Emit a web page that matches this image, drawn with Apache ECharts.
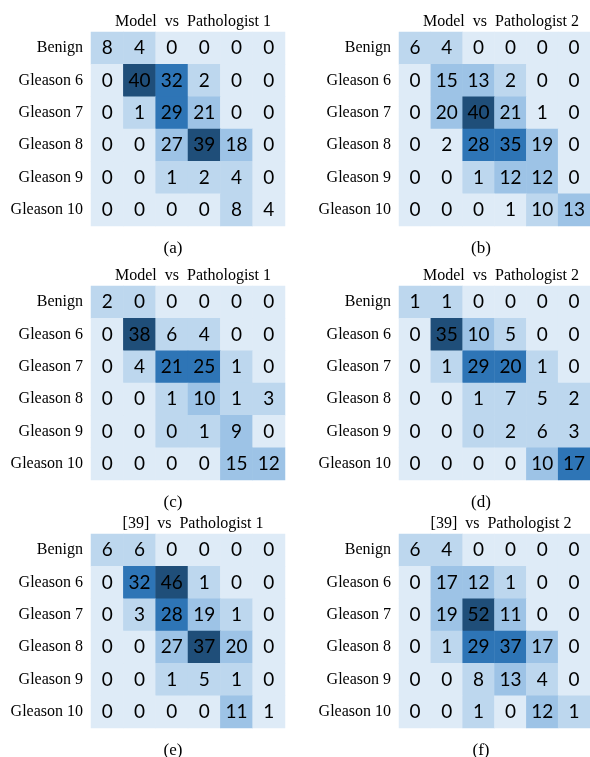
<!DOCTYPE html>
<html>
<head>
<meta charset="utf-8">
<script src="https://cdn.jsdelivr.net/npm/echarts@6/dist/echarts.min.js"></script>
<style>
  html, body { margin: 0; padding: 0; background: #fff; }
  #chart { width: 590px; height: 757px; }
</style>
</head>
<body>
<div id="chart"></div>
<script>
const rowLabels = ['Benign', 'Gleason 6', 'Gleason 7', 'Gleason 8', 'Gleason 9', 'Gleason 10']
const titles = [
  'Model  vs  Pathologist 1', 'Model  vs  Pathologist 2',
  'Model  vs  Pathologist 1', 'Model  vs  Pathologist 2',
  '[39]  vs  Pathologist 1', '[39]  vs  Pathologist 2'
]
const captions = ['(a)', '(b)', '(c)', '(d)', '(e)', '(f)']

// counts per panel, rows top to bottom
const countsA = [[8, 4, 0, 0, 0, 0], [0, 40, 32, 2, 0, 0], [0, 1, 29, 21, 0, 0], [0, 0, 27, 39, 18, 0], [0, 0, 1, 2, 4, 0], [0, 0, 0, 0, 8, 4]]
const countsB = [[6, 4, 0, 0, 0, 0], [0, 15, 13, 2, 0, 0], [0, 20, 40, 21, 1, 0], [0, 2, 28, 35, 19, 0], [0, 0, 1, 12, 12, 0], [0, 0, 0, 1, 10, 13]]
const countsC = [[2, 0, 0, 0, 0, 0], [0, 38, 6, 4, 0, 0], [0, 4, 21, 25, 1, 0], [0, 0, 1, 10, 1, 3], [0, 0, 0, 1, 9, 0], [0, 0, 0, 0, 15, 12]]
const countsD = [[1, 1, 0, 0, 0, 0], [0, 35, 10, 5, 0, 0], [0, 1, 29, 20, 1, 0], [0, 0, 1, 7, 5, 2], [0, 0, 0, 2, 6, 3], [0, 0, 0, 0, 10, 17]]
const countsE = [[6, 6, 0, 0, 0, 0], [0, 32, 46, 1, 0, 0], [0, 3, 28, 19, 1, 0], [0, 0, 27, 37, 20, 0], [0, 0, 1, 5, 1, 0], [0, 0, 0, 0, 11, 1]]
const countsF = [[6, 4, 0, 0, 0, 0], [0, 17, 12, 1, 0, 0], [0, 19, 52, 11, 0, 0], [0, 1, 29, 37, 17, 0], [0, 0, 8, 13, 4, 0], [0, 0, 1, 0, 12, 1]]

// shade level of every cell (0 lightest .. 4 darkest)
const shadeA = [[1, 1, 0, 0, 0, 0], [0, 4, 3, 1, 0, 0], [0, 1, 3, 2, 0, 0], [0, 0, 2, 4, 2, 0], [0, 0, 1, 1, 1, 0], [0, 0, 0, 0, 1, 0]]
const shadeB = [[1, 1, 0, 0, 0, 0], [0, 2, 2, 1, 0, 0], [0, 2, 4, 2, 0, 0], [0, 0, 3, 3, 2, 0], [0, 0, 1, 2, 2, 0], [0, 0, 0, 0, 1, 2]]
const shadeC = [[1, 1, 0, 0, 0, 0], [0, 4, 1, 1, 0, 0], [0, 1, 3, 3, 1, 0], [0, 0, 1, 2, 1, 1], [0, 0, 1, 1, 2, 0], [0, 0, 0, 0, 2, 2]]
const shadeD = [[1, 1, 0, 0, 0, 0], [0, 4, 2, 1, 0, 0], [0, 1, 3, 3, 1, 0], [0, 0, 1, 1, 1, 1], [0, 0, 1, 1, 1, 1], [0, 0, 0, 0, 2, 3]]
const shadeE = [[1, 1, 0, 0, 0, 0], [0, 3, 4, 1, 0, 0], [0, 1, 3, 2, 1, 0], [0, 0, 2, 4, 2, 0], [0, 0, 1, 1, 1, 0], [0, 0, 0, 0, 2, 0]]
const shadeF = [[1, 1, 0, 0, 0, 0], [0, 2, 2, 1, 0, 0], [0, 2, 4, 2, 0, 0], [0, 1, 3, 3, 2, 0], [0, 0, 1, 2, 1, 0], [0, 0, 1, 0, 2, 1]]

const counts = [countsA, countsB, countsC, countsD, countsE, countsF]
const shades = [shadeA, shadeB, shadeC, shadeD, shadeE, shadeF]
const SHADES = ['#deebf7', '#bdd7ee', '#9dc3e6', '#2e75b6', '#1f4e79']

const lefts = [91, 399]
const tops = [32, 286, 534]
const SIZE = 194
const SERIF = 'Liberation Serif'

const grid = []
const xAxis = []
const yAxis = []
const series = []
const title = []

counts.forEach((mat, i) => {
  const left = lefts[i % 2]
  const top = tops[Math.floor(i / 2)]
  grid.push({ left, top, width: SIZE, height: SIZE })
  xAxis.push({
    type: 'category',
    gridIndex: i,
    data: rowLabels,
    show: false
  })
  yAxis.push({
    type: 'category',
    gridIndex: i,
    data: rowLabels,
    inverse: true,
    axisLine: { show: false },
    axisTick: { show: false },
    axisLabel: { fontFamily: SERIF, fontSize: 16, color: '#000', margin: 8 }
  })
  const data = []
  mat.forEach((row, r) => {
    row.forEach((v, c) => data.push([c, r, v, shades[i][r][c]]))
  })
  series.push({
    type: 'heatmap',
    xAxisIndex: i,
    yAxisIndex: i,
    data,
    itemStyle: { borderWidth: 0 },
    label: {
      show: true,
      formatter: p => p.value[2],
      fontFamily: 'Lato',
      fontSize: 19,
      color: '#000'
    },
    emphasis: { disabled: true }
  })
  title.push({
    text: titles[i],
    left: left + SIZE / 2,
    top: top - 23,
    textAlign: 'center',
    textStyle: { fontFamily: SERIF, fontSize: 16, fontWeight: 'normal', color: '#000' }
  })
  title.push({
    text: captions[i],
    left: left + SIZE / 2 - 20,
    top: top + SIZE + 9,
    textAlign: 'center',
    textStyle: { fontFamily: SERIF, fontSize: 17, fontWeight: 'normal', color: '#000' }
  })
})

const chart = echarts.init(document.getElementById('chart'))
chart.setOption({
  animation: false,
  title,
  grid,
  xAxis,
  yAxis,
  visualMap: {
    type: 'piecewise',
    show: false,
    dimension: 3,
    seriesIndex: series.map((s, i) => i),
    pieces: SHADES.map((color, k) => ({ value: k, color }))
  },
  series
})
</script>
</body>
</html>
